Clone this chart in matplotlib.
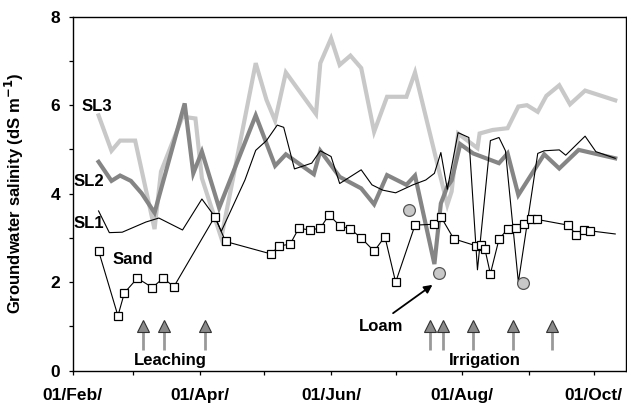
import matplotlib
matplotlib.use("Agg")
import matplotlib.pyplot as plt
import numpy as np

plt.rcParams['font.family'] = ['Liberation Sans', 'DejaVu Sans']
plt.rcParams['font.weight'] = 'bold'

# x values: days since 01/Feb
sl3_day = [12, 18, 22, 29, 38, 41, 51, 57, 60, 69, 85, 90, 94, 99, 106, 113, 115, 120, 124, 129,
           134, 140, 146, 155, 159, 174, 176, 179, 188, 189, 195, 202, 207, 211, 216, 220, 226, 231, 238, 252]
sl3_val = [5.77, 4.97, 5.2, 5.2, 3.2, 4.5, 5.74, 5.7, 4.35, 3.0, 6.95, 6.12, 5.65, 6.74, 6.27, 5.8, 6.95, 7.51, 6.91, 7.12,
           6.84, 5.4, 6.19, 6.19, 6.74, 3.75, 4.05, 5.36, 5.03, 5.36, 5.44, 5.48, 5.97, 6.0, 5.85, 6.21, 6.45, 6.02, 6.33, 6.11]

sl2_day = [12, 18, 22, 27, 32, 38, 52, 56, 60, 68, 85, 94, 99, 112, 115, 124, 134, 140, 146, 155,
           159, 168, 171, 174, 176, 180, 186, 198, 202, 207, 219, 226, 235, 252]
sl2_val = [4.72, 4.29, 4.41, 4.29, 4.01, 3.57, 6.04, 4.46, 4.95, 3.68, 5.77, 4.63, 4.89, 4.44, 4.97, 4.38, 4.12, 3.76, 4.42, 4.20,
           4.41, 2.41, 3.78, 4.16, 4.3, 5.12, 4.91, 4.69, 4.91, 3.97, 4.89, 4.57, 4.99, 4.80]

sl1_day = [12, 17, 23, 34, 40, 51, 60, 66, 69, 80, 85, 90, 95, 98, 103, 111, 115, 120, 124, 134,
           139, 144, 150, 158, 164, 168, 171, 174, 179, 184, 188, 194, 198, 201, 207, 216, 219, 226, 229, 238, 243, 252]
sl1_val = [3.61, 3.12, 3.13, 3.36, 3.45, 3.18, 3.88, 3.48, 3.15, 4.31, 4.98, 5.2, 5.55, 5.5, 4.56, 4.69, 4.97, 4.84, 4.23, 4.54,
           4.2, 4.08, 4.02, 4.2, 4.31, 4.46, 4.93, 4.1, 5.38, 5.27, 2.28, 5.2, 5.27, 4.97, 2.0, 4.91, 4.97, 4.99, 4.87, 5.30, 4.95, 4.80]

sand_day = [12, 21, 24, 30, 37, 42, 47, 66, 71, 92, 96, 101, 105, 110, 115, 119, 124, 129, 134, 140,
            145, 150, 159, 168, 171, 177, 187.5, 189.5, 191.5, 194, 198, 202, 206, 209.5, 213, 215.5, 230, 234, 237.5, 240.5, 252]
sand_val = [2.71, 1.24, 1.76, 2.09, 1.88, 2.09, 1.9, 3.48, 2.92, 2.64, 2.82, 2.86, 3.22, 3.18, 3.22, 3.52, 3.28, 3.2, 3.0, 2.7,
            3.03, 2.0, 3.29, 3.31, 3.48, 2.98, 2.82, 2.84, 2.74, 2.19, 2.97, 3.2, 3.22, 3.32, 3.42, 3.42, 3.29, 3.07, 3.18, 3.16, 3.09]

loam_day = [156, 170, 209]
loam_val = [3.63, 2.2, 1.98]

leaching_day = [32.5, 42.6, 61.5]
irrigation_day = [166, 172, 185.7, 204.5, 222.7]

month_day = [0, 28, 59, 89, 120, 150, 181, 212, 242]
month_label = ['01/Feb/', '', '01/Apr/', '', '01/Jun/', '', '01/Aug/', '', '01/Oct/']

fig = plt.figure(figsize=(6.27, 4.08), dpi=100)
ax = fig.add_axes([0.116, 0.0914, 0.8824, 0.8677])

ax.plot(sl3_day, sl3_val, color='#c8c8c8', lw=3.0, solid_joinstyle='miter', zorder=2)
ax.plot(sl2_day, sl2_val, color='#858585', lw=3.0, solid_joinstyle='miter', zorder=3)
ax.plot(sl1_day, sl1_val, color='black', lw=0.8, zorder=4)
ax.plot(sand_day, sand_val, color='black', lw=0.8, marker='s', ms=5.5, mfc='white', mec='black',
        mew=0.9, markevery=slice(0, -1), zorder=5)
ax.plot(loam_day, loam_val, ls='none', marker='o', ms=8.5, mfc='#c8c8c8', mec='#555555', mew=0.9, zorder=6)

for d in leaching_day + irrigation_day:
    ax.plot([d, d], [0.47, 0.9], color='#999999', lw=2.0, solid_capstyle='butt', zorder=3)
    ax.plot([d], [1.0], marker='^', ms=8.5, mfc='#8a8a8a', mec='#333333', mew=0.8, zorder=4)

ax.annotate('', xy=(167.1, 1.94), xytext=(148.8, 1.30),
            arrowprops=dict(arrowstyle='-|>', color='black', lw=1.3, mutation_scale=12, shrinkA=0, shrinkB=0))

fs = 12
ax.text(4.2, 5.97, 'SL3', fontsize=fs, fontweight='bold', ha='left', va='center')
ax.text(0.3, 4.27, 'SL2', fontsize=fs, fontweight='bold', ha='left', va='center')
ax.text(0.3, 3.33, 'SL1', fontsize=fs, fontweight='bold', ha='left', va='center')
ax.text(28.1, 2.52, 'Sand', fontsize=fs, fontweight='bold', ha='center', va='center')
ax.text(45.5, 0.24, 'Leaching', fontsize=fs, fontweight='bold', ha='center', va='center')
ax.text(191.4, 0.23, 'Irrigation', fontsize=fs, fontweight='bold', ha='center', va='center')
ax.text(143, 1.01, 'Loam', fontsize=fs, fontweight='bold', ha='center', va='center')

ax.set_xlim(0, 257)
ax.set_ylim(0, 8)
ax.set_xticks(month_day)
ax.set_xticklabels(month_label)
ax.set_yticks(range(0, 9))
ax.set_yticklabels([str(v) if v % 2 == 0 else '' for v in range(0, 9)])
ax.tick_params(axis='both', direction='out', length=3.2, width=0.9, labelsize=12.5)
ax.tick_params(axis='x', pad=9)
ax.tick_params(axis='y', pad=6)
for lab in ax.get_xticklabels() + ax.get_yticklabels():
    lab.set_fontweight('bold')
for s in ax.spines.values():
    s.set_linewidth(1.0)

ax.set_ylabel('Groundwater salinity (dS m$^{\\mathbf{-1}}$)', fontsize=12, fontweight='bold')
ax.yaxis.set_label_coords(-0.084, 0.5)

fig.savefig('out.png', dpi=100)
